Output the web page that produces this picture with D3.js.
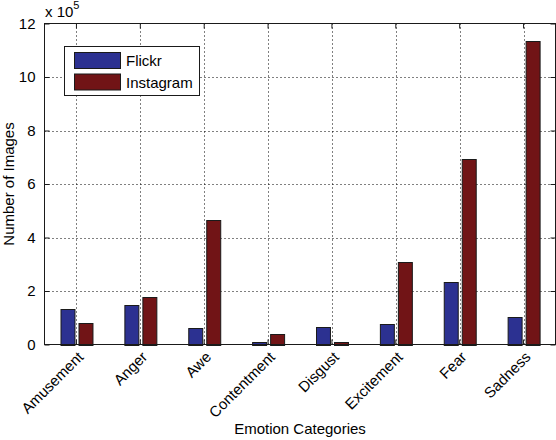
<!DOCTYPE html>
<html><head><meta charset="utf-8">
<script src="https://cdn.jsdelivr.net/npm/d3@7"></script>
<style>
body{margin:0;background:#fff;}
text{font-family:"Liberation Sans",Arial,sans-serif;fill:#000;}
</style></head>
<body><svg id="c" width="556" height="440"></svg>
<script>
const categories = ["Amusement","Anger","Awe","Contentment","Disgust","Excitement","Fear","Sadness"];
const seriesNames = ["Flickr","Instagram"];
const flickr =    [1.32, 1.46, 0.60, 0.11, 0.67, 0.78, 2.32, 1.01];
const instagram = [0.82, 1.76, 4.67, 0.41, 0.11, 3.07, 6.92, 11.36];
const yTicks = [0,2,4,6,8,10,12];
const colors = ["#2c3191","#711416"];

const svg = d3.select("#c");
const L=44.5, R=555.5, T=23.5, B=344.5;
const x = d3.scaleBand().domain(categories).range([L,R]).padding(0);
const inner = d3.scaleBand().domain(seriesNames).range([x.bandwidth()*0.25, x.bandwidth()*0.75]).paddingInner(4/18).paddingOuter(0);
const y = d3.scaleLinear().domain([0,12]).range([B,T]);
const cx = c => x(c)+x.bandwidth()/2;

// grid
const g = svg.append("g");
g.selectAll("line.gy").data(yTicks.filter(t=>t>0&&t<12)).join("line")
  .attr("x1",L).attr("x2",R).attr("y1",d=>Math.round(y(d))+0.5).attr("y2",d=>Math.round(y(d))+0.5)
  .attr("stroke","#000").attr("stroke-width",1).attr("stroke-dasharray","1,3");
g.selectAll("line.gx").data(categories).join("line")
  .attr("x1",d=>Math.round(cx(d))+0.5).attr("x2",d=>Math.round(cx(d))+0.5).attr("y1",T).attr("y2",B)
  .attr("stroke","#000").attr("stroke-width",1).attr("stroke-dasharray","1,3");

// bars
const data = categories.map((c,i)=>({c, vals:[flickr[i], instagram[i]]}));
const grp = svg.append("g").selectAll("g").data(data).join("g").attr("transform",d=>`translate(${x(d.c)},0)`);
grp.selectAll("rect").data(d=>d.vals.map((v,j)=>({s:seriesNames[j], v, j}))).join("rect")
  .attr("x",d=>Math.round(inner(d.s))+0.5).attr("width",inner.bandwidth())
  .attr("y",d=>Math.round(y(d.v))+0.5).attr("height",d=>Math.round(y(0))-Math.round(y(d.v)))
  .attr("fill",d=>colors[d.j]).attr("stroke","#1a1a1a").attr("stroke-width",1);

// axes (box with inward ticks)
const ay = svg.append("g").attr("transform",`translate(${L},0)`)
  .call(d3.axisLeft(y).tickValues(yTicks).tickSizeInner(-5).tickSizeOuter(0).tickPadding(9));
const ayr = svg.append("g").attr("transform",`translate(${R},0)`)
  .call(d3.axisRight(y).tickValues(yTicks).tickSizeInner(-5).tickSizeOuter(0).tickFormat(""));
const axb = svg.append("g").attr("transform",`translate(0,${B})`)
  .call(d3.axisBottom(x).tickSizeInner(-5).tickSizeOuter(0).tickFormat(""));
const axt = svg.append("g").attr("transform",`translate(0,${T})`)
  .call(d3.axisTop(x).tickSizeInner(-5).tickSizeOuter(0).tickFormat(""));
[ay,ayr,axb,axt].forEach(a=>{a.select(".domain").remove();a.selectAll(".tick line").attr("stroke","#1a1a1a");});
ay.selectAll("text").attr("font-size",15).attr("font-family","Liberation Sans, Arial").attr("fill","#000");
svg.append("rect").attr("x",L).attr("y",T).attr("width",R-L).attr("height",B-T).attr("fill","none").attr("stroke","#1a1a1a").attr("stroke-width",1);

// category labels rotated
svg.append("g").selectAll("text").data(categories).join("text")
  .attr("transform",d=>`translate(${cx(d)+0.5},${B+6}) rotate(-45)`)
  .attr("text-anchor","end").attr("dy","0.7em").attr("font-size",15).text(d=>d);

// multiplier
const m = svg.append("text").attr("x",45).attr("y",17).attr("font-size",15);
m.append("tspan").text("x 10");
m.append("tspan").attr("dy",-8).attr("font-size",11).text("5");

// axis titles
svg.append("text").attr("x",(L+R)/2).attr("y",434).attr("text-anchor","middle").attr("font-size",15).text("Emotion Categories");
svg.append("text").attr("transform",`translate(14,${(T+B)/2}) rotate(-90)`).attr("text-anchor","middle").attr("font-size",15).text("Number of Images");

// legend
const lg = svg.append("g");
lg.append("rect").attr("x",64.5).attr("y",46.5).attr("width",135).attr("height",49).attr("fill","#fff").attr("stroke","#1a1a1a");
seriesNames.forEach((s,i)=>{
  lg.append("rect").attr("x",74.5).attr("y",52.5+i*21.5).attr("width",46).attr("height",16).attr("fill",colors[i]).attr("stroke","#1a1a1a");
  lg.append("text").attr("x",126).attr("y",66+i*21.5).attr("font-size",15).text(s);
});
</script></body></html>
